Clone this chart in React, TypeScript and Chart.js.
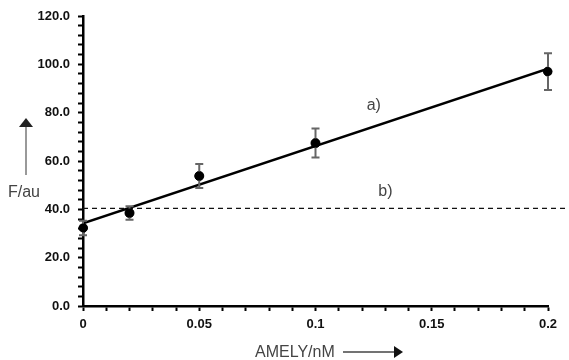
import React, { useEffect, useRef } from "react";
import { Chart, registerables } from "chart.js";

Chart.register(...registerables);

const concX = [0, 0.02, 0.05, 0.1, 0.2];
const signalY = [32.3, 38.5, 53.8, 67.4, 97.0];
const signalErr = [3.0, 2.8, 5.0, 6.0, 7.6];
const fitX = [0, 0.2];
const fitY = [34.2, 98.2];
const baselineX = [0, 0.209];
const baselineY = [40.4, 40.4];
const curveLabels = ["a)", "b)"];
const labelAnchorX = [0.122, 0.127];
const labelAnchorY = [82.8, 47.5];
const xTitle = "AMELY/nM";
const yTitle = "F/au";

const errorBarPlugin = {
  id: "errorBars",
  afterDatasetsDraw(chart: any) {
    const ctx = chart.ctx;
    const xs = chart.scales.x;
    const ys = chart.scales.y;
    ctx.save();
    ctx.strokeStyle = "#666";
    ctx.lineWidth = 2;
    concX.forEach((xv, i) => {
      const px = xs.getPixelForValue(xv);
      const top = ys.getPixelForValue(signalY[i] + signalErr[i]);
      const bot = ys.getPixelForValue(signalY[i] - signalErr[i]);
      ctx.beginPath();
      ctx.moveTo(px, top);
      ctx.lineTo(px, bot);
      ctx.moveTo(px - 4, top);
      ctx.lineTo(px + 4, top);
      ctx.moveTo(px - 4, bot);
      ctx.lineTo(px + 4, bot);
      ctx.stroke();
    });
    // redraw points on top
    ctx.fillStyle = "#000";
    concX.forEach((xv, i) => {
      ctx.beginPath();
      ctx.arc(xs.getPixelForValue(xv), ys.getPixelForValue(signalY[i]), 4.5, 0, Math.PI * 2);
      ctx.fill();
    });
    ctx.restore();
  },
  afterDraw(chart: any) {
    const ctx = chart.ctx;
    const xs = chart.scales.x;
    const ys = chart.scales.y;
    const area = chart.chartArea;
    ctx.save();
    ctx.font = '16px "Liberation Sans", Arial, sans-serif';
    ctx.fillStyle = "#444";
    ctx.textBaseline = "middle";
    ctx.textAlign = "left";
    curveLabels.forEach((t, i) => {
      ctx.fillText(t, xs.getPixelForValue(labelAnchorX[i]), ys.getPixelForValue(labelAnchorY[i]));
    });
    // y title and arrow
    const midY = (area.top + area.bottom) / 2;
    ctx.fillText(yTitle, 8, midY + 32);
    ctx.strokeStyle = "#777";
    ctx.lineWidth = 1.5;
    ctx.beginPath();
    ctx.moveTo(26, midY + 14);
    ctx.lineTo(26, midY - 34);
    ctx.stroke();
    ctx.fillStyle = "#222";
    ctx.beginPath();
    ctx.moveTo(26, midY - 43);
    ctx.lineTo(19, midY - 34);
    ctx.lineTo(33, midY - 34);
    ctx.closePath();
    ctx.fill();
    // x title and arrow
    ctx.fillStyle = "#444";
    ctx.fillText(xTitle, 255, 353);
    ctx.strokeStyle = "#444";
    ctx.beginPath();
    ctx.moveTo(343, 352);
    ctx.lineTo(394, 352);
    ctx.stroke();
    ctx.fillStyle = "#111";
    ctx.beginPath();
    ctx.moveTo(403, 352);
    ctx.lineTo(394, 346);
    ctx.lineTo(394, 358);
    ctx.closePath();
    ctx.fill();
    ctx.restore();
  },
};

export default function App() {
  const ref = useRef<HTMLCanvasElement>(null);
  useEffect(() => {
    document.body.style.margin = "0";
    const tickFont = { family: '"Liberation Sans", Arial, sans-serif', size: 13, weight: "bold" as const };
    const chart = new Chart(ref.current!, {
      type: "scatter",
      data: {
        datasets: [
          {
            type: "line",
            data: fitX.map((x, i) => ({ x, y: fitY[i] })),
            borderColor: "#000",
            borderWidth: 2.5,
            pointRadius: 0,
            fill: false,
          },
          {
            type: "line",
            data: baselineX.map((x, i) => ({ x, y: baselineY[i] })),
            borderColor: "#111",
            borderWidth: 1.3,
            borderDash: [5, 4],
            pointRadius: 0,
            fill: false,
            clip: false as any,
          },
          {
            data: concX.map((x, i) => ({ x, y: signalY[i] })),
            backgroundColor: "#000",
            borderColor: "#000",
            pointRadius: 4.5,
          },
        ],
      },
      options: {
        animation: false,
        responsive: false,
        layout: { padding: { top: 16, right: 21, left: 0, bottom: 0 } },
        plugins: { legend: { display: false }, tooltip: { enabled: false } },
        scales: {
          x: {
            type: "linear",
            min: 0,
            max: 0.2,
            border: { color: "#000", width: 2.5 },
            grid: { drawOnChartArea: false, drawTicks: true, tickLength: 5, tickWidth: 2, tickColor: "#000" },
            ticks: {
              stepSize: 0.01,
              autoSkip: false,
              maxRotation: 0,
              padding: 6,
              color: "#111",
              font: tickFont,
              callback: (v: any) => {
                const n = Math.round(Number(v) * 100);
                return n % 5 === 0 ? String(n / 100) : "";
              },
            },
            afterFit: (s: any) => { s.height = 54; },
          },
          y: {
            min: 0,
            max: 120,
            border: { color: "#000", width: 2.5 },
            grid: { drawOnChartArea: false, drawTicks: true, tickLength: 5, tickWidth: 2, tickColor: "#000" },
            ticks: {
              stepSize: 4,
              autoSkip: false,
              padding: 8,
              color: "#111",
              font: tickFont,
              callback: (v: any) => {
                const n = Math.round(Number(v));
                return n % 20 === 0 ? n.toFixed(1) : "";
              },
            },
            afterFit: (s: any) => { s.width = 83; },
          },
        },
      },
      plugins: [errorBarPlugin],
    });
    return () => chart.destroy();
  }, []);
  return (
    <div style={{ width: 569, height: 360, background: "#fff" }}>
      <canvas ref={ref} width={569} height={360} />
    </div>
  );
}
